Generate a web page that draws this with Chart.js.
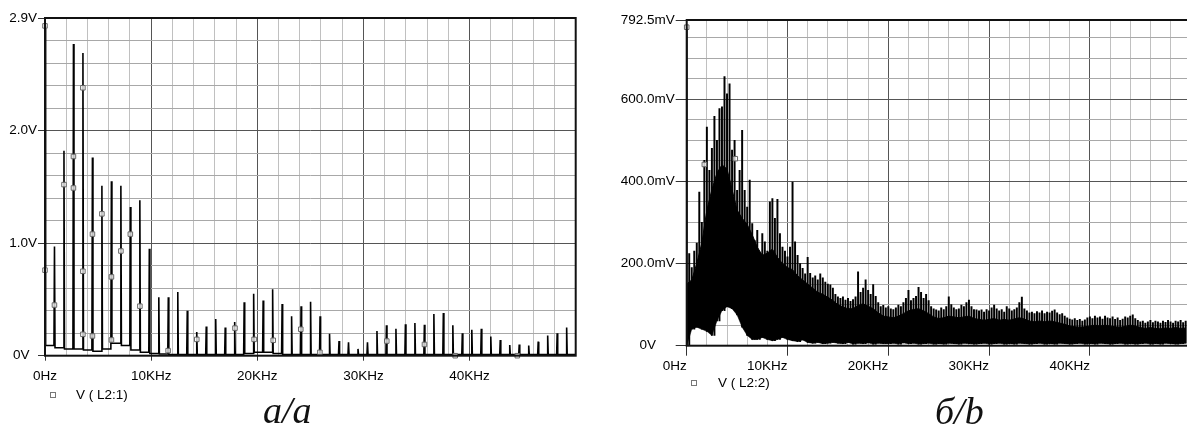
<!DOCTYPE html>
<html>
<head>
<meta charset="utf-8">
<script src="https://cdn.jsdelivr.net/npm/chart.js@4.4.1/dist/chart.umd.min.js"></script>
<style>
    html, body { margin: 0; padding: 0; background: #fff; }
    body { width: 1187px; height: 427px; overflow: hidden; position: relative; font-family: "Liberation Sans", Arial, sans-serif; }
    canvas { position: absolute; top: 0; }
    #leftChart { left: 0; }
    #rightChart { left: 600px; }
    .legend { position: absolute; font-size: 13.5px; line-height: 16px; color: #000; white-space: pre; }
    .mk { position: absolute; width: 4px; height: 4px; border: 1px solid #777; }
    .caption { position: absolute; font-family: "Liberation Serif", "DejaVu Serif", serif; font-style: italic; font-size: 38px; line-height: 38px; color: #111; white-space: pre; }
</style>
</head>
<body>
<canvas id="leftChart" width="590" height="427"></canvas>
<canvas id="rightChart" width="600" height="427"></canvas>

<div class="mk" style="left:50px; top:392px;"></div>
<div class="legend" style="left:76px; top:387px;">V ( L2:1)</div>
<div class="mk" style="left:691px; top:380px;"></div>
<div class="legend" style="left:718px; top:375px;">V ( L2:2)</div>

<div class="caption" style="left:263px; top:391px;">a/a</div>
<div class="caption" style="left:935px; top:392px;">б/b</div>

<script>
// ---- axes (shared) ----
const xGridKHz = [0, 2, 4, 6, 8, 10, 12, 14, 16, 18, 20, 22, 24, 26, 28, 30, 32, 34, 36, 38, 40, 42, 44, 46, 48, 50];
const xTicks = [0, 10, 20, 30, 40];
const xLabels = ['0Hz', '10KHz', '20KHz', '30KHz', '40KHz'];

// ---- left chart: V(L2:1) ----
const leftYGrid = [0, 0.2, 0.4, 0.6, 0.8, 1, 1.2, 1.4, 1.6, 1.8, 2, 2.2, 2.4, 2.6, 2.8, 3];
const leftYTicks = [0, 1, 2, 3];
const leftYLabels = ['0V\u00a0\u00a0', '1.0V', '2.0V', '2.9V'];

const leftFundamentalKHz = 0.8936;
const leftDcV = 2.93;
// harmonic peaks, n = 1..55
const leftPeaksV = [
    0.97, 1.82, 2.77, 2.69, 1.76, 1.51, 1.55, 1.51, 1.32, 1.38,
    0.95, 0.52, 0.52, 0.565, 0.40, 0.21, 0.26, 0.325, 0.25, 0.30,
    0.475, 0.55, 0.49, 0.59, 0.46, 0.35, 0.44, 0.48, 0.35, 0.195,
    0.13, 0.12, 0.06, 0.12, 0.22, 0.27, 0.24, 0.28, 0.29, 0.275,
    0.37, 0.38, 0.27, 0.20, 0.23, 0.24, 0.17, 0.14, 0.095, 0.10,
    0.09, 0.125, 0.18, 0.20, 0.25
];
// noise floor between harmonics (gap 0 = before 1st harmonic)
const leftFloorV = [
    0.09, 0.07, 0.06, 0.06, 0.05, 0.04, 0.06, 0.11, 0.09, 0.05,
    0.03, 0.02, 0.015, 0.01, 0.01, 0.01, 0.01, 0.01, 0.01, 0.01,
    0.01, 0.02, 0.03, 0.03, 0.02, 0.01, 0.01, 0.01, 0.01, 0.01,
    0.01, 0.01, 0.01, 0.01, 0.01, 0.01, 0.01, 0.01, 0.01, 0.01,
    0.01, 0.01, 0.01, 0.01, 0.01, 0.01, 0.01, 0.01, 0.01, 0.01,
    0.01, 0.01, 0.01, 0.01, 0.01, 0.01
];
const leftMarkers = [
    [0, 2.93], [0, 0.76], [0.89, 0.45], [1.79, 1.52], [2.68, 1.77], [2.68, 1.49],
    [3.57, 2.38], [3.57, 0.75], [3.57, 0.19], [4.47, 1.08], [4.47, 0.175], [5.36, 1.26],
    [6.26, 0.70], [6.26, 0.14], [7.15, 0.93], [8.04, 1.08], [8.94, 0.44], [11.6, 0.045],
    [14.3, 0.145], [17.9, 0.245], [19.7, 0.145], [21.5, 0.137], [24.1, 0.235], [25.9, 0.03],
    [32.2, 0.13], [35.75, 0.10], [38.65, 0.0], [44.5, 0.0]
];

// ---- right chart: V(L2:2) ----
const rightYGrid = [0, 50, 100, 150, 200, 250, 300, 350, 400, 450, 500, 550, 600, 650, 700, 750, 792.5];
const rightYTicks = [0, 200, 400, 600, 792.5];
const rightYLabels = ['0V\u00a0\u00a0\u00a0\u00a0\u00a0', '200.0mV', '400.0mV', '600.0mV', '792.5mV'];

// spike tops, one per 0.25 KHz (0 .. 49.75 KHz), mV
const rightPeakStepKHz = 0.25;
const rightPeakMv = [
    775, 224, 190, 230, 250, 374, 300, 451, 532, 427, 480, 558, 500, 577, 581, 655, 613, 637, 476, 500,
    378, 427, 524, 378, 337, 403, 297, 256, 281, 216, 273, 253, 230, 350, 358, 310, 356, 273, 240, 230,
    216, 240, 398, 253, 220, 200, 188, 175, 215, 176, 165, 170, 160, 175, 165, 155, 150, 148, 140, 125,
    119, 115, 119, 111, 115, 108, 112, 119, 180, 130, 140, 160, 135, 125, 149, 120, 105, 95, 98, 92,
    95, 90, 88, 92, 99, 95, 105, 115, 135, 110, 115, 120, 142, 130, 115, 125, 110, 95, 90, 87,
    85, 92, 88, 95, 119, 100, 92, 88, 90, 99, 95, 105, 111, 95, 88, 87, 85, 87, 82, 88,
    85, 92, 99, 90, 85, 88, 82, 95, 90, 85, 88, 92, 105, 118, 90, 85, 80, 82, 78, 83,
    80, 85, 78, 82, 80, 84, 87, 80, 76, 78, 72, 68, 65, 63, 66, 62, 64, 60, 63, 68,
    70, 66, 72, 68, 70, 65, 72, 68, 66, 70, 64, 68, 62, 65, 70, 68, 72, 75, 66, 62,
    58, 60, 55, 58, 62, 56, 60, 58, 55, 60, 57, 62, 58, 55, 60, 58, 62, 56, 60, 58
];
// dense (solid) band, one per 0.5 KHz, mV
const rightBandStepKHz = 0.5;
const rightBandTopMv = [
    150, 160, 200, 250, 330, 380, 420, 440, 430, 380,
    330, 310, 295, 270, 240, 220, 225, 235, 215, 200,
    190, 185, 170, 160, 150, 140, 130, 125, 118, 110,
    100, 94, 90, 90, 98, 102, 96, 90, 80, 72,
    70, 68, 72, 78, 85, 88, 90, 85, 78, 70,
    66, 68, 72, 70, 68, 70, 72, 66, 64, 62,
    64, 66, 62, 64, 62, 65, 68, 65, 60, 58,
    60, 58, 60, 58, 55, 52, 48, 46, 45, 46,
    48, 50, 48, 50, 48, 46, 45, 47, 50, 48,
    44, 42, 44, 42, 41, 43, 42, 44, 42, 43
];
const rightBandBottomMv = [
    0, 40, 45, 40, 35, 25, 60, 85, 95, 90,
    75, 45, 25, 15, 15, 20, 15, 12, 15, 20,
    15, 12, 10, 14, 8, 6, 8, 5, 6, 8,
    6, 5, 8, 4, 6, 5, 7, 4, 6, 5,
    5, 6, 4, 7, 5, 6, 4, 5, 6, 4,
    5, 4, 6, 5, 4, 6, 5, 4, 5, 6,
    4, 5, 6, 4, 5, 4, 6, 5, 4, 5,
    6, 4, 5, 4, 6, 5, 4, 5, 6, 4,
    5, 4, 6, 5, 4, 5, 6, 4, 5, 4,
    5, 6, 4, 5, 4, 6, 5, 4, 5, 6
];
const rightMarkers = [[0, 775], [1.75, 441], [4.82, 455]];

// ---- helpers ----
const tickFont = { family: "'Liberation Sans', Arial, sans-serif", size: 13.5 };

function labelFor(ticks, labels, v) {
    const i = ticks.indexOf(v);
    return i >= 0 ? labels[i] : '';
}

function freqAxis(align, tickLen, pad, height) {
    return {
        type: 'linear', min: 0, max: 50, offset: false,
        afterBuildTicks: s => { s.ticks = xGridKHz.map(v => ({ value: v })); },
        afterFit: s => { s.height = height; },
        border: { display: false },
        grid: {
            offset: false,
            lineWidth: 1,
            color: c => (c.tick && xTicks.includes(c.tick.value)) ? '#555' : '#c0c0c0',
            tickLength: tickLen,
            tickColor: c => (c.tick && xTicks.includes(c.tick.value)) ? '#333' : 'rgba(0,0,0,0)'
        },
        ticks: {
            autoSkip: false, maxRotation: 0, minRotation: 0, align: align, padding: pad,
            color: '#000', font: tickFont,
            callback: v => labelFor(xTicks, xLabels, v)
        }
    };
}

function valueAxis(grid, ticks, labels, max, width, tickLen, pad) {
    return {
        type: 'linear', min: 0, max: max,
        afterBuildTicks: s => { s.ticks = grid.map(v => ({ value: v })); },
        afterFit: s => { s.width = width; },
        border: { display: false },
        grid: {
            lineWidth: 1,
            color: c => (c.tick && ticks.includes(c.tick.value)) ? '#555' : '#a8a8a8',
            tickLength: tickLen,
            tickColor: c => (c.tick && ticks.includes(c.tick.value)) ? '#333' : 'rgba(0,0,0,0)'
        },
        ticks: {
            autoSkip: false, padding: pad, color: '#000', font: tickFont,
            callback: v => labelFor(ticks, labels, v)
        }
    };
}

// frame round the plot area
const framePlugin = {
    id: 'frame',
    afterDatasetsDraw(chart) {
        const a = chart.chartArea;
        const ctx = chart.ctx;
        ctx.save();
        ctx.strokeStyle = '#111';
        ctx.lineWidth = 2;
        ctx.strokeRect(a.left, a.top, a.right - a.left, a.bottom - a.top);
        ctx.restore();
    }
};

function markerSet(points) {
    return {
        type: 'scatter',
        data: points.map(p => ({ x: p[0], y: p[1] })),
        pointStyle: 'rect', pointRadius: 3.2, pointRotation: 0,
        pointBorderColor: '#666', pointBorderWidth: 1, pointBackgroundColor: 'rgba(255,255,255,0.75)',
        borderColor: '#666', backgroundColor: 'rgba(255,255,255,0.75)',
        showLine: false, order: 0, clip: false
    };
}

// ---- left trace ----
const leftTrace = [{ x: 0, y: leftDcV }, { x: 0.06, y: leftFloorV[0] }];
leftPeaksV.forEach((v, i) => {
    const f = (i + 1) * leftFundamentalKHz;
    leftTrace.push({ x: f - 0.05, y: leftFloorV[i] });
    leftTrace.push({ x: f, y: v });
    leftTrace.push({ x: f + 0.05, y: leftFloorV[i + 1] });
});
leftTrace.push({ x: 50, y: leftFloorV[leftFloorV.length - 1] });

new Chart(document.getElementById('leftChart'), {
    type: 'line',
    data: {
        datasets: [
            markerSet(leftMarkers),
            {
                label: 'V ( L2:1)',
                data: leftTrace,
                borderColor: '#000', borderWidth: 1.6,
                pointRadius: 0, tension: 0, fill: false, order: 1
            }
        ]
    },
    options: {
        responsive: false, animation: false, devicePixelRatio: 1,
        layout: { padding: { top: 18, right: 14.3, left: 0, bottom: 0 } },
        plugins: { legend: { display: false }, tooltip: { enabled: false } },
        scales: {
            x: freqAxis('center', 5, 7, 71.3),
            y: valueAxis(leftYGrid, leftYTicks, leftYLabels, 3, 45, 7, 1)
        }
    },
    plugins: [framePlugin]
});

// ---- right chart ----
const bandTop = rightBandTopMv.map((v, i) => ({ x: i * rightBandStepKHz, y: v }));
const bandBottom = rightBandBottomMv.map((v, i) => ({ x: i * rightBandStepKHz, y: v }));
const spikes = rightPeakMv.map((v, i) => ({
    x: i * rightPeakStepKHz,
    y: [rightBandBottomMv[Math.floor(i / 2)], v]
}));

new Chart(document.getElementById('rightChart'), {
    type: 'line',
    data: {
        datasets: [
            markerSet(rightMarkers),
            {
                type: 'bar', label: 'spikes', data: spikes,
                backgroundColor: '#000', borderWidth: 0, barThickness: 1.3,
                grouped: false, order: 1
            },
            {
                label: 'V ( L2:2)', data: bandTop,
                borderColor: '#000', borderWidth: 1, backgroundColor: '#000',
                pointRadius: 0, tension: 0, fill: '+1', order: 2
            },
            {
                label: 'floor', data: bandBottom,
                borderColor: '#000', borderWidth: 0.5,
                pointRadius: 0, tension: 0, fill: false, order: 3
            }
        ]
    },
    options: {
        responsive: false, animation: false, devicePixelRatio: 1,
        layout: { padding: { top: 20, right: 9.3, left: 0, bottom: 0 } },
        plugins: { legend: { display: false }, tooltip: { enabled: false } },
        scales: {
            x: freqAxis('end', 10, 2, 81.3),
            y: valueAxis(rightYGrid, rightYTicks, rightYLabels, 792.5, 86.7, 11, 1)
        }
    },
    plugins: [framePlugin]
});
</script>
</body>
</html>
